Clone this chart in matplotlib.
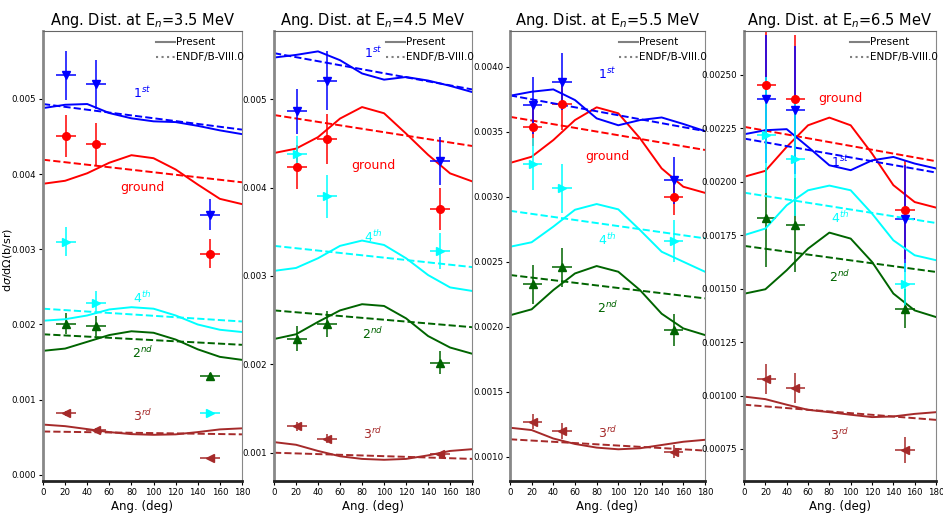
import numpy as np
import matplotlib
matplotlib.use("Agg")
import matplotlib.pyplot as plt
from matplotlib.lines import Line2D

plt.rcParams['font.family'] = ['DejaVu Sans']

energies = [3.5, 4.5, 5.5, 6.5]
levels = ['ground', '1st', '2nd', '3rd', '4th']
colors = {'ground': 'red', '1st': 'blue', '2nd': 'darkgreen', '3rd': 'brown', '4th': 'cyan'}
markers = {'ground': 'o', '1st': 'v', '2nd': '^', '3rd': '<', '4th': '>'}
tags = {'ground': 'ground', '1st': '1$^{st}$', '2nd': '2$^{nd}$', '3rd': '3$^{rd}$', '4th': '4$^{th}$'}

# measured angles and x half-width
exp_ang = [21, 48, 151]
ang_err = 9

# measured values (b/sr) and errors, per energy, per level
exp_val = {
    3.5: {'ground': [0.00450, 0.00440, 0.00294], '1st': [0.00531, 0.00519, 0.00346],
          '2nd': [0.00201, 0.00198, 0.00131], '3rd': [0.00082, 0.00060, 0.00022],
          '4th': [0.00310, 0.00229, 0.00082]},
    4.5: {'ground': [0.00423, 0.00455, 0.003756], '1st': [0.00486, 0.00521, 0.00430],
          '2nd': [0.00229, 0.002455, 0.00202], '3rd': [0.00130, 0.00116, 0.00098],
          '4th': [0.00438, 0.00390, 0.00328]},
    5.5: {'ground': [0.003538, 0.00371, 0.00300], '1st': [0.003705, 0.003885, 0.003128],
          '2nd': [0.002328, 0.002457, 0.001975], '3rd': [0.00127, 0.00120, 0.00104],
          '4th': [0.003249, 0.003065, 0.00266]},
    6.5: {'ground': [0.002452, 0.002386, 0.00187], '1st': [0.002386, 0.002335, 0.001828],
          '2nd': [0.001832, 0.001796, 0.001406], '3rd': [0.001077, 0.001037, 0.000746],
          '4th': [0.002218, 0.002108, 0.00152]},
}
exp_err = {
    3.5: {'ground': [0.00028, 0.00028, 0.00019], '1st': [0.00033, 0.00033, 0.00021],
          '2nd': [0.00014, 0.00013, 0.00005], '3rd': [0.00003, 0.00003, 0.00002],
          '4th': [0.00019, 0.00015, 0.00003]},
    4.5: {'ground': [0.00025, 0.00028, 0.00024], '1st': [0.00025, 0.00033, 0.00027],
          '2nd': [0.00014, 0.00015, 0.00013], '3rd': [0.00005, 0.00005, 0.00003],
          '4th': [0.00020, 0.00024, 0.00020]},
    5.5: {'ground': [0.00015, 0.00020, 0.00014], '1st': [0.00022, 0.00022, 0.00018],
          '2nd': [0.00015, 0.00015, 0.00012], '3rd': [0.00006, 0.00006, 0.00005],
          '4th': [0.00020, 0.00019, 0.00016]},
    6.5: {'ground': [0.00030, 0.00030, 0.00023], '1st': [0.00030, 0.00030, 0.00025],
          '2nd': [0.00023, 0.00022, 0.00009], '3rd': [0.00007, 0.00007, 0.00006],
          '4th': [0.00027, 0.00027, 0.00010]},
}

# model curves, read every 20 deg
ang = [0, 20, 40, 60, 80, 100, 120, 140, 160, 180]
present = {
    3.5: {'ground': [0.00387, 0.00391, 0.00401, 0.00415, 0.00425, 0.00421, 0.00406, 0.00386, 0.00367, 0.00360],
          '1st': [0.004876, 0.00492, 0.00493, 0.00481, 0.00474, 0.00470, 0.00469, 0.00464, 0.00458, 0.00453],
          '2nd': [0.00165, 0.00168, 0.00177, 0.00186, 0.00191, 0.00189, 0.00180, 0.00167, 0.00157, 0.00153],
          '3rd': [0.00067, 0.000649, 0.00061, 0.00057, 0.000543, 0.000534, 0.00054, 0.00057, 0.000606, 0.00062],
          '4th': [0.00205, 0.00207, 0.00212, 0.00220, 0.00223, 0.00221, 0.00212, 0.00200, 0.00193, 0.00190]},
    4.5: {'ground': [0.00439, 0.00444, 0.00457, 0.00478, 0.00491, 0.00484, 0.00461, 0.00437, 0.00416, 0.00407],
          '1st': [0.00547, 0.00550, 0.00554, 0.00544, 0.00529, 0.00522, 0.00525, 0.00521, 0.00515, 0.00508],
          '2nd': [0.002286, 0.00234, 0.00248, 0.00261, 0.00268, 0.00266, 0.00252, 0.00232, 0.00219, 0.00212],
          '3rd': [0.00112, 0.00109, 0.00102, 0.00096, 0.00093, 0.00092, 0.00093, 0.00097, 0.00102, 0.00104],
          '4th': [0.003057, 0.00309, 0.00320, 0.00334, 0.00340, 0.00335, 0.00320, 0.00301, 0.00287, 0.00283]},
    5.5: {'ground': [0.00326, 0.003308, 0.003436, 0.00359, 0.003688, 0.003642, 0.00345, 0.003218, 0.003077, 0.00303],
          '1st': [0.003777, 0.003808, 0.003826, 0.003744, 0.003603, 0.00355, 0.00359, 0.00361, 0.00356, 0.003505],
          '2nd': [0.002088, 0.002134, 0.002282, 0.00241, 0.002467, 0.002423, 0.002282, 0.00210, 0.001987, 0.001936],
          '3rd': [0.001223, 0.001205, 0.00114, 0.001098, 0.00107, 0.001057, 0.001065, 0.00109, 0.001115, 0.00113],
          '4th': [0.002615, 0.00265, 0.00277, 0.00290, 0.002944, 0.002903, 0.002744, 0.002577, 0.00250, 0.002423]},
    6.5: {'ground': [0.002023, 0.002051, 0.002163, 0.002264, 0.00230, 0.002264, 0.002132, 0.001984, 0.001905, 0.001879],
          '1st': [0.002222, 0.002241, 0.002246, 0.002163, 0.002077, 0.002054, 0.00210, 0.002116, 0.002085, 0.002062],
          '2nd': [0.001476, 0.001497, 0.001586, 0.001687, 0.001762, 0.001734, 0.001625, 0.001477, 0.001398, 0.001367],
          '3rd': [0.000995, 0.000983, 0.000957, 0.000933, 0.000922, 0.00091, 0.000899, 0.000902, 0.000914, 0.000922],
          '4th': [0.00175, 0.001781, 0.00189, 0.00196, 0.001982, 0.00196, 0.001851, 0.001726, 0.001656, 0.001633]},
}
# ENDF/B-VIII.0 curves, values at 0 and 180 deg
endf_ang = [0, 180]
endf = {
    3.5: {'ground': [0.00419, 0.00389], '1st': [0.00493, 0.00459], '2nd': [0.00187, 0.00173],
          '3rd': [0.000578, 0.00054], '4th': [0.00221, 0.00204]},
    4.5: {'ground': [0.00482, 0.00447], '1st': [0.00552, 0.00511], '2nd': [0.00261, 0.00242],
          '3rd': [0.00100, 0.00093], '4th': [0.00334, 0.00310]},
    5.5: {'ground': [0.003615, 0.00336], '1st': [0.00378, 0.003505], '2nd': [0.002398, 0.002218],
          '3rd': [0.001134, 0.001047], '4th': [0.002892, 0.00268]},
    6.5: {'ground': [0.002257, 0.002096], '1st': [0.002202, 0.002043], '2nd': [0.00170, 0.001578],
          '3rd': [0.000957, 0.000886], '4th': [0.001949, 0.001807]},
}
# where the level names are written
tag_pos = {
    3.5: {'ground': 0.00382, '1st': 0.00507, '2nd': 0.00162, '3rd': 0.00078, '4th': 0.00235},
    4.5: {'ground': 0.00425, '1st': 0.00552, '2nd': 0.00234, '3rd': 0.00121, '4th': 0.00344},
    5.5: {'ground': 0.003313, '1st': 0.003944, '2nd': 0.002141, '3rd': 0.00118, '4th': 0.002667},
    6.5: {'ground': 0.00239, '1st': 0.002093, '2nd': 0.001554, '3rd': 0.000816, '4th': 0.001828},
}
ylims = {3.5: (-0.00008, 0.0059), 4.5: (0.00068, 0.00577), 5.5: (0.000813, 0.004275), 6.5: (0.0006, 0.002705)}
yticks = {3.5: np.arange(0, 0.0051, 0.001), 4.5: np.arange(0.001, 0.0051, 0.001),
          5.5: np.arange(0.001, 0.00401, 0.0005), 6.5: np.arange(0.00075, 0.00251, 0.00025)}
yfmt = {3.5: '%.3f', 4.5: '%.3f', 5.5: '%.4f', 6.5: '%.5f'}

fig = plt.figure(figsize=(9.43, 5.19), dpi=100)
lefts = [0.0456, 0.2906, 0.5408, 0.789]
widths = [0.211, 0.21, 0.2068, 0.2036]

for i, E in enumerate(energies):
    ax = fig.add_axes([lefts[i], 0.0732, widths[i], 0.867])
    for lv in levels:
        c = colors[lv]
        ax.plot(ang, present[E][lv], '-', color=c, lw=1.4)
        ax.plot(endf_ang, endf[E][lv], '--', color=c, lw=1.4)
        ax.errorbar(exp_ang, exp_val[E][lv], yerr=exp_err[E][lv], xerr=ang_err,
                    fmt=markers[lv], color=c, ms=5.5, elinewidth=1.1, capsize=0)
        ax.text(90, tag_pos[E][lv], tags[lv], color=c, fontsize=9, ha='center', va='center')
    ax.set_xlim(0, 180)
    ax.set_ylim(*ylims[E])
    ax.set_xticks(range(0, 181, 20))
    ax.set_yticks(yticks[E])
    ax.set_yticklabels([yfmt[E] % v for v in yticks[E]])
    ax.tick_params(labelsize=6.2, length=3, pad=2)
    ax.set_xlabel('Ang. (deg)', fontsize=8.5, labelpad=2)
    ax.set_title('Ang. Dist. at E$_n$=%.1f MeV' % E, fontsize=10.5, pad=4)
    ax.spines['left'].set_color('#888888')
    ax.spines['left'].set_linewidth(2)
    ax.spines['bottom'].set_color('#222222')
    ax.spines['bottom'].set_linewidth(2)
    ax.spines['top'].set_color('#666666')
    ax.spines['right'].set_color('#888888')
    handles = [Line2D([], [], color='gray', lw=1.5, ls='-'),
               Line2D([], [], color='gray', lw=1.5, ls=':')]
    ax.legend(handles, ['Present', 'ENDF/B-VIII.0'], loc='upper right', frameon=False,
              fontsize=7.5, handlelength=1.8, handletextpad=0.1, borderaxespad=0.2,
              labelspacing=0.5, bbox_to_anchor=(1.04, 1.0))

fig.text(0.0075, 0.5, r'd$\sigma$/d$\Omega$(b/sr)', rotation=90, fontsize=8,
         ha='center', va='center')

fig.savefig('out.png', dpi=100)
